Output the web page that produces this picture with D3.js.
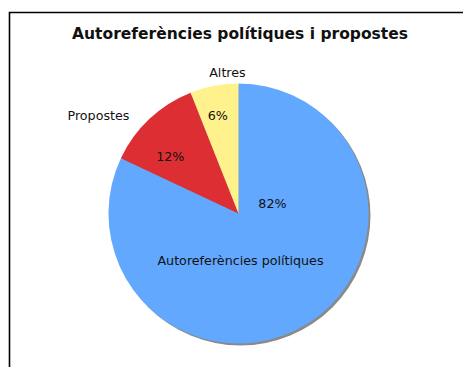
<!DOCTYPE html>
<html>
<head>
<meta charset="utf-8">
<script src="https://cdn.jsdelivr.net/npm/d3@7/dist/d3.min.js"></script>
<style>
  html, body { margin: 0; padding: 0; background: #fff; }
  svg { display: block; }
  text { font-family: "DejaVu Sans", Verdana, sans-serif; fill: #111; }
</style>
</head>
<body>
<svg id="chart" width="463" height="367"></svg>
<script>
// Share of statements by type
const categories = ["Autoreferències polítiques", "Propostes", "Altres"];
const values = [82, 12, 6];
const colors = ["#62a8ff", "#dd2e33", "#fff18c"];

const svg = d3.select("#chart");
const W = 463, H = 367;

// frame (open on the right and bottom)
svg.append("path")
  .attr("d", `M9.5,${H} L9.5,12.5 L${W},12.5`)
  .attr("fill", "none")
  .attr("stroke", "#000")
  .attr("stroke-width", 1.6);

svg.append("text")
  .attr("x", 240).attr("y", 39)
  .attr("text-anchor", "middle")
  .style("font-size", "15.5px")
  .style("font-weight", "bold")
  .text("Autoreferències polítiques i propostes");

const cx = 238.5, cy = 213.5, R = 130;
const g = svg.append("g").attr("transform", `translate(${cx},${cy})`);

const pie = d3.pie().sort(null).value(d => d.value);
const data = categories.map((c, i) => ({ name: c, value: values[i], color: colors[i] }));
const arcs = pie(data);
const arc = d3.arc().innerRadius(0).outerRadius(R);

// drop shadow
g.append("circle")
  .attr("cx", 2).attr("cy", 2).attr("r", R)
  .attr("fill", "#8a8a8a");

g.selectAll("path.slice")
  .data(arcs)
  .enter().append("path")
  .attr("class", "slice")
  .attr("d", arc)
  .attr("fill", d => d.data.color);

// label placement: polar position (angle in degrees clockwise from top, radius)
const pctPos = [[73.6, 35.4], [310, 89], [348, 100]];
const namePos = [[177.6, 47], [305, 171], [355.5, 141]];
const polar = ([a, r]) => {
  const t = a * Math.PI / 180;
  return [r * Math.sin(t), -r * Math.cos(t)];
};

g.selectAll("text.pct")
  .data(arcs)
  .enter().append("text")
  .attr("class", "pct")
  .attr("text-anchor", "middle")
  .attr("dy", "0.35em")
  .style("font-size", "12.7px")
  .attr("transform", (d, i) => `translate(${polar(pctPos[i])})`)
  .text(d => d3.format(".0f")(d.value) + "%");

g.selectAll("text.name")
  .data(arcs)
  .enter().append("text")
  .attr("class", "name")
  .attr("text-anchor", "middle")
  .attr("dy", "0.35em")
  .style("font-size", "12.7px")
  .attr("transform", (d, i) => `translate(${polar(namePos[i])})`)
  .text(d => d.data.name);
</script>
</body>
</html>
